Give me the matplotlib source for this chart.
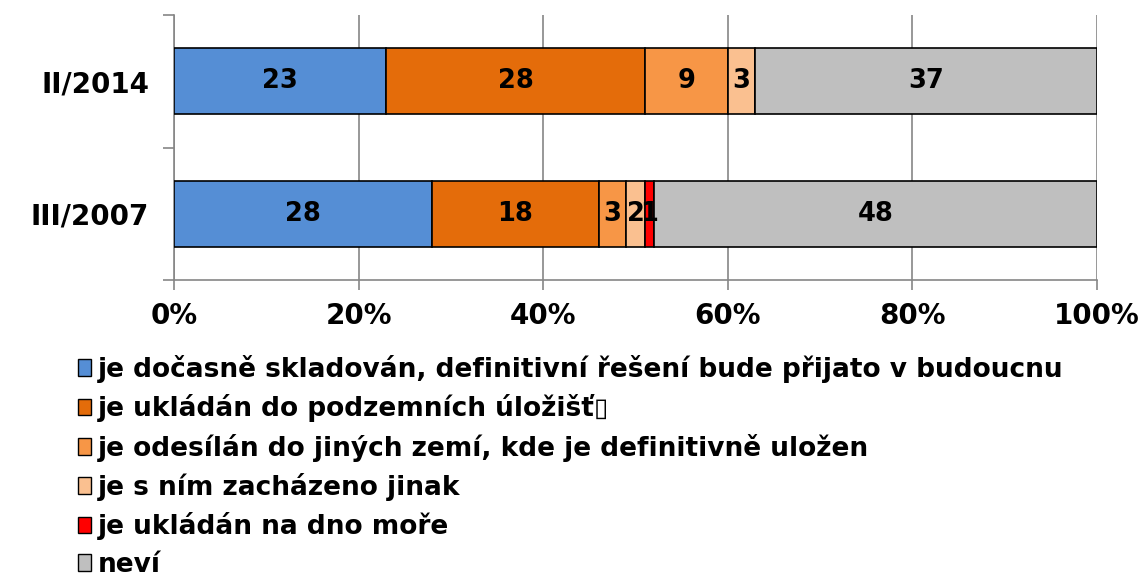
import matplotlib
matplotlib.use("Agg")
import matplotlib.pyplot as plt
from matplotlib.patches import Patch
import numpy as np

categories = ["III/2007", "II/2014"]
series_names = [
    "je dočasně skladován, definitivní řešení bude přijato v budoucnu",
    "je ukládán do podzemních úložišť\u25af",
    "je odesílán do jiných zemí, kde je definitivně uložen",
    "je s ním zacházeno jinak",
    "je ukládán na dno moře",
    "neví",
]
values_2007 = [28, 18, 3, 2, 1, 48]
values_2014 = [23, 28, 9, 3, 0, 37]
colors = ["#558ED5", "#E46C0A", "#F79646", "#FAC090", "#FF0000", "#BFBFBF"]
x_ticks = [0, 20, 40, 60, 80, 100]
x_ticklabels = ["0%", "20%", "40%", "60%", "80%", "100%"]

plt.rcParams['font.family'] = ['DejaVu Sans']
plt.rcParams['font.weight'] = 'bold'

fig = plt.figure(figsize=(11.45, 5.79), dpi=100)
ax = fig.add_axes([174/1145, 1-280/579, (1097-174)/1145, (280-15)/579])

data = np.array([values_2007, values_2014])
y = np.arange(len(categories))
left = np.zeros(len(categories))
for i in range(len(series_names)):
    vals = data[:, i]
    ax.barh(y, vals, left=left, height=0.5, color=colors[i], edgecolor="black",
            linewidth=1.2, zorder=3)
    for j, v in enumerate(vals):
        if v > 0:
            ax.text(left[j] + v/2, y[j], str(v), ha="center", va="center",
                    fontsize=18.5, fontweight="bold", color="black", zorder=4)
    left += vals

ax.set_xlim(0, 100)
ax.set_ylim(-0.5, 1.5)
ax.set_xticks(x_ticks)
ax.set_xticklabels(x_ticklabels, fontsize=20, fontweight="bold")
ax.set_yticks(y)
ax.set_yticklabels(categories, fontsize=20, fontweight="bold")
ax.set_yticks([-0.5, 0.5, 1.5], minor=True)
ax.tick_params(axis="y", which="major", length=0, pad=18)
ax.tick_params(axis="y", which="minor", length=8, color="#868686", width=1.2)
ax.tick_params(axis="x", length=7, color="#868686", width=1.2, pad=9)
ax.grid(axis="x", color="#868686", linewidth=1.2, zorder=0)
for s in ["top", "right"]:
    ax.spines[s].set_visible(False)
for s in ["left", "bottom"]:
    ax.spines[s].set_color("#868686")
    ax.spines[s].set_linewidth(1.2)

handles = [Patch(facecolor=c, edgecolor="black", linewidth=1) for c in colors]
fig.legend(handles, series_names, loc="upper left", bbox_to_anchor=(78/1145, 1-355/579),
           frameon=False, prop={"weight": "bold", "size": 19},
           handlelength=0.5, handleheight=0.6, handletextpad=0.25, labelspacing=0.43,
           borderaxespad=0, borderpad=0)

fig.savefig("out.png", dpi=100)
